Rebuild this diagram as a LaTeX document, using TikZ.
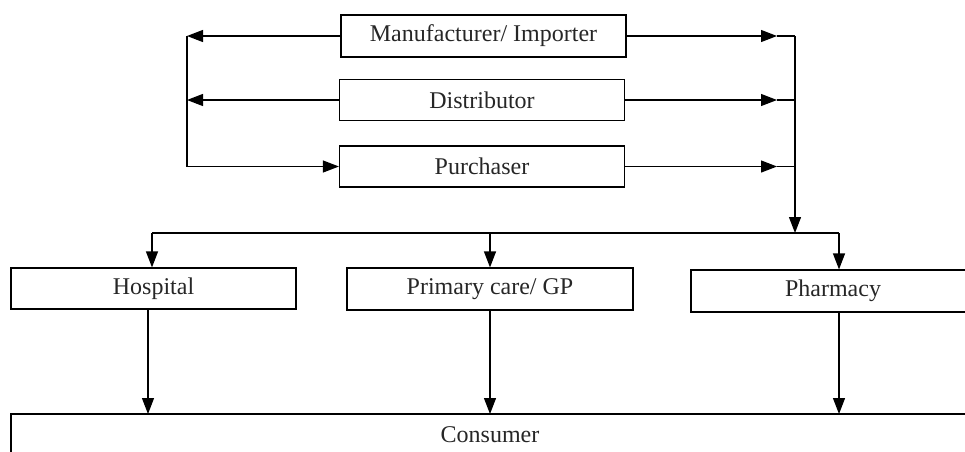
\documentclass[tikz,border=0pt]{standalone}
\usepackage{fontspec}
\setmainfont{Liberation Serif}
\usetikzlibrary{arrows.meta}
\begin{document}
\begin{tikzpicture}[x=1pt,y=-1pt,
  box/.style={draw, line width=1.2pt, minimum width=285pt, minimum height=41pt, inner sep=0pt, font=\fontsize{24}{28}\selectfont, text=black!85},
  arr/.style={line width=1.2pt, -{Triangle[length=16pt,width=12pt]}},
  ln/.style={line width=1.2pt}]
\useasboundingbox (0,0) rectangle (965,451);
% top boxes
\node[box, minimum height=42pt] (mfr) at (483.5,36) {Manufacturer/ Importer};
\node[box] (dist) at (482,100) {Distributor};
\node[box] (purch) at (482,166.5) {Purchaser};
% middle boxes
\node[box] (hosp) at (153.5,288.5) {Hospital};
\node[box, minimum width=286pt, minimum height=42pt] (prim) at (490,289) {Primary care/ GP};
\node[box, minimum width=284pt, minimum height=42pt] (pharm) at (833,291) {Pharmacy};
% consumer
\draw[ln] (11,460) -- (11,414) -- (975,414);
\node[font=\fontsize{24}{28}\selectfont, text=black!85] (cons) at (490,435) {Consumer};
% helper coordinates
\coordinate (L) at (187,0);
\coordinate (R) at (795,0);
\coordinate (Rt) at (777,0);
\coordinate (bus) at (0,233);
\coordinate (ctop) at (0,414);
\coordinate (hin) at ([xshift=-1.5pt]hosp.north);
\coordinate (hout) at ([xshift=-5.5pt]hosp.south);
\coordinate (pin) at ([xshift=6pt]pharm.north);
\coordinate (pout) at ([xshift=6pt]pharm.south);
% left loop
\draw[arr] (mfr.west) -- (mfr.west -| L);
\draw[arr] (dist.west) -- (dist.west -| L);
\draw[ln] (mfr.west -| L) -- (purch.west -| L);
\draw[arr] (purch.west -| L) -- (purch.west);
% right side
\draw[arr] (mfr.east) -- (mfr.east -| Rt);
\draw[ln] (mfr.east -| Rt) -- (mfr.east -| R);
\draw[arr] (dist.east) -- (dist.east -| Rt);
\draw[ln] (dist.east -| Rt) -- (dist.east -| R);
\draw[arr] (purch.east) -- (purch.east -| Rt);
\draw[ln] (purch.east -| Rt) -- (purch.east -| R);
\draw[arr] (mfr.east -| R) -- (bus -| R);
% distribution bus
\draw[ln] (hin |- bus) -- (pin |- bus);
\draw[arr] (hin |- bus) -- (hin);
\draw[arr] (prim.north |- bus) -- (prim.north);
\draw[arr] (pin |- bus) -- (pin);
% to consumer
\draw[arr] (hout) -- (hout |- ctop);
\draw[arr] (prim.south) -- (prim.south |- ctop);
\draw[arr] (pout) -- (pout |- ctop);
\end{tikzpicture}
\end{document}
